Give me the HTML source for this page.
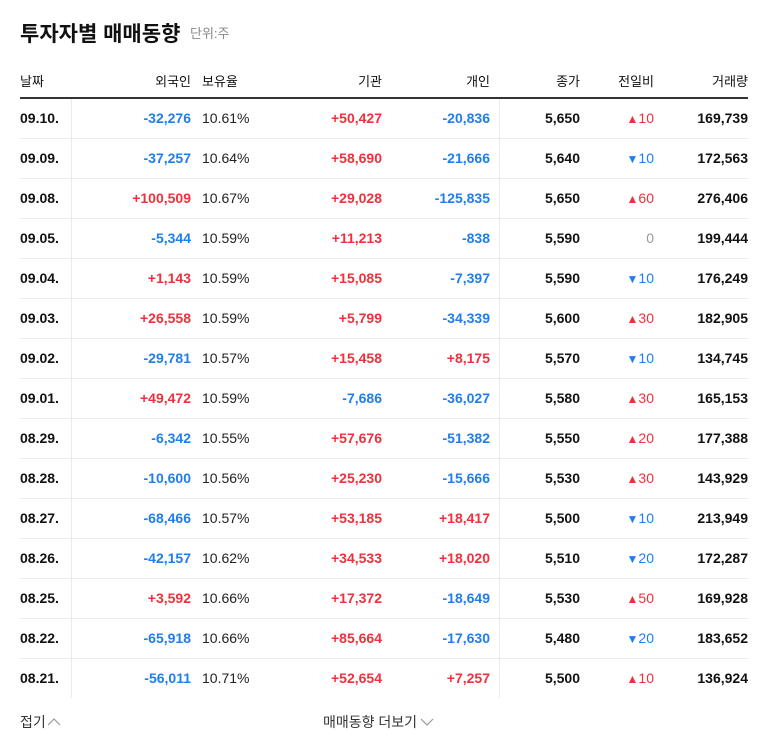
<!DOCTYPE html>
<html><head><meta charset="utf-8">
<style>
body{margin:0;width:768px;height:749px;background:#fff;font-family:"Liberation Sans","Noto Sans CJK KR",sans-serif;position:relative;overflow:hidden;color:#111}
.t{position:absolute;white-space:nowrap}
.title{left:20px;top:18px;font-size:21px;font-weight:bold;color:#111}
.unit{left:190px;top:23px;font-size:13px;color:#888}
.hd{top:71px;font-size:13px;color:#111}
.cell{font-size:14px;font-weight:bold}
.r{text-align:right}
.blue{color:#1e7ef0}.red{color:#f0303c}.gray{color:#999}
.line{position:absolute;left:20px;width:728px;height:1px;background:#ebebeb}
</style></head><body>
<div class="t title">투자자별 매매동향</div>
<div class="t unit">단위:주</div>
<div class="t hd" style="left:20px">날짜</div>
<div class="t hd r" style="right:577px">외국인</div>
<div class="t hd" style="left:202px">보유율</div>
<div class="t hd r" style="right:386px">기관</div>
<div class="t hd r" style="right:278px">개인</div>
<div class="t hd r" style="right:188px">종가</div>
<div class="t hd r" style="right:114px">전일비</div>
<div class="t hd r" style="right:20px">거래량</div>
<div style="position:absolute;left:20px;top:97px;width:728px;height:2px;background:#333"></div>
<div style="position:absolute;left:71px;top:99px;width:1px;height:599px;background:#ebebeb"></div>
<div style="position:absolute;left:499px;top:99px;width:1px;height:599px;background:#ebebeb"></div>
<div id="rows"></div>
<div class="t" style="left:20px;top:712px;font-size:14px;color:#333">접기<svg width="14" height="10" viewBox="0 0 14 10" style="margin-left:1px"><polyline points="1,8 7,2 13,8" fill="none" stroke="#999" stroke-width="1.2"/></svg></div>
<div class="t" style="left:323px;top:712px;font-size:14px;color:#333">매매동향 더보기<svg width="14" height="10" viewBox="0 0 14 10" style="margin-left:3px"><polyline points="1,2 7,8 13,2" fill="none" stroke="#999" stroke-width="1.2"/></svg></div>
<script>
const dates=["09.10.","09.09.","09.08.","09.05.","09.04.","09.03.","09.02.","09.01.","08.29.","08.28.","08.27.","08.26.","08.25.","08.22.","08.21."];
const foreign=[-32276,-37257,100509,-5344,1143,26558,-29781,49472,-6342,-10600,-68466,-42157,3592,-65918,-56011];
const holding=["10.61%","10.64%","10.67%","10.59%","10.59%","10.59%","10.57%","10.59%","10.55%","10.56%","10.57%","10.62%","10.66%","10.66%","10.71%"];
const institution=[50427,58690,29028,11213,15085,5799,15458,-7686,57676,25230,53185,34533,17372,85664,52654];
const individual=[-20836,-21666,-125835,-838,-7397,-34339,8175,-36027,-51382,-15666,18417,18020,-18649,-17630,7257];
const closePrice=[5650,5640,5650,5590,5590,5600,5570,5580,5550,5530,5500,5510,5530,5480,5500];
const change=[10,-10,60,0,-10,30,-10,30,20,30,-10,-20,50,-20,10];
const volume=[169739,172563,276406,199444,176249,182905,134745,165153,177388,143929,213949,172287,169928,183652,136924];
const rows=document.getElementById('rows');
const fmt=v=>Math.abs(v).toLocaleString('en-US');
const sgn=v=>(v>0?'+':'-')+fmt(v);
const cls=v=>v>0?'red':'blue';
function cell(txt,c,pos,top,name,w){
 const d=document.createElement('div');
 d.className='t cell '+c;
 d.style.cssText=pos+';top:'+top+'px'+(w?';font-weight:normal':'');
 d.textContent=txt;
 
 
 rows.appendChild(d);return d;
}
dates.forEach((d,i)=>{
 const y=99+i*40, ty=y+11;
 if(i>0){const l=document.createElement('div');l.className='line';l.style.top=(y-1)+'px';
 
 
 rows.appendChild(l);}
 cell(d,'','left:20px',ty,'date-cell');
 cell(sgn(foreign[i]),cls(foreign[i]),'right:577px',ty,'foreign-cell');
 cell(holding[i],'','left:202px;color:#222',ty,'holding-cell',1);
 cell(sgn(institution[i]),cls(institution[i]),'right:386px',ty,'institution-cell');
 cell(sgn(individual[i]),cls(individual[i]),'right:278px',ty,'individual-cell');
 cell(closePrice[i].toLocaleString('en-US'),'','right:188px',ty,'close-cell');
 const c=change[i];
 const ch=cell('', c>0?'red':c<0?'blue':'gray','right:114px',ty,'change-cell',1);
 ch.innerHTML=(c>0?'<span style="font-size:12px">▲</span>':c<0?'<span style="font-size:12px">▼</span>':'')+Math.abs(c);
 cell(volume[i].toLocaleString('en-US'),'','right:20px',ty,'volume-cell');
});
</script>
</body></html>
